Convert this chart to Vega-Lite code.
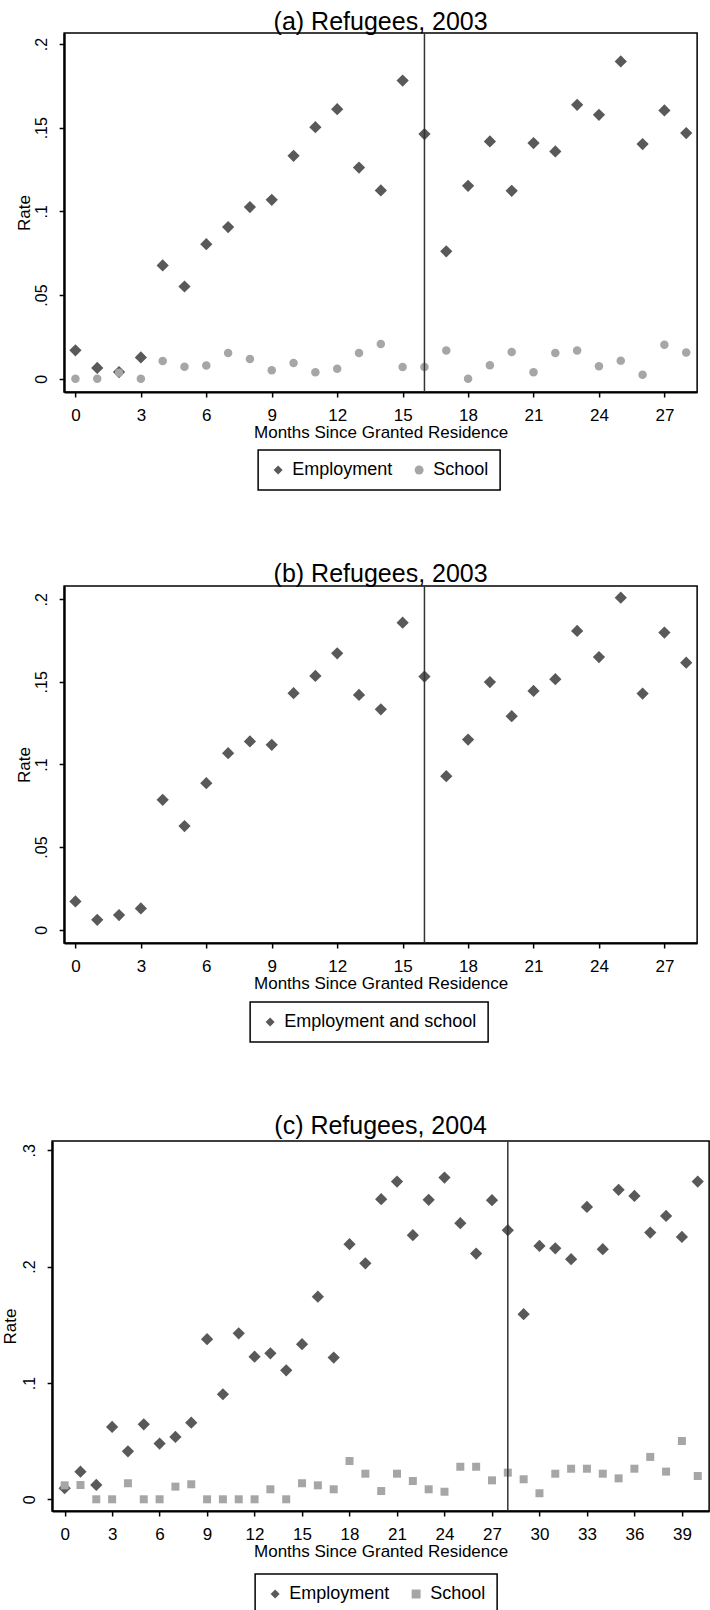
{
  "$schema": "https://vega.github.io/schema/vega-lite/v6.json",
  "padding": {"left": 0, "top": 9, "right": 0, "bottom": 0},
  "center": true,
  "spacing": 69,
  "resolve": {
    "scale": {"color": "independent", "shape": "independent"},
    "legend": {"color": "independent", "shape": "independent"}
  },
  "datasets": {
    "a": [
      {"month": 0, "series": "Employment", "rate": 0.017},
      {"month": 1, "series": "Employment", "rate": 0.0064},
      {"month": 2, "series": "Employment", "rate": 0.004},
      {"month": 3, "series": "Employment", "rate": 0.0127},
      {"month": 4, "series": "Employment", "rate": 0.0677},
      {"month": 5, "series": "Employment", "rate": 0.0551},
      {"month": 6, "series": "Employment", "rate": 0.0804},
      {"month": 7, "series": "Employment", "rate": 0.0906},
      {"month": 8, "series": "Employment", "rate": 0.1026},
      {"month": 9, "series": "Employment", "rate": 0.1069},
      {"month": 10, "series": "Employment", "rate": 0.1332},
      {"month": 11, "series": "Employment", "rate": 0.1503},
      {"month": 12, "series": "Employment", "rate": 0.1611},
      {"month": 13, "series": "Employment", "rate": 0.1262},
      {"month": 14, "series": "Employment", "rate": 0.1125},
      {"month": 15, "series": "Employment", "rate": 0.1782},
      {"month": 16, "series": "Employment", "rate": 0.1462},
      {"month": 17, "series": "Employment", "rate": 0.0761},
      {"month": 18, "series": "Employment", "rate": 0.1153},
      {"month": 19, "series": "Employment", "rate": 0.1418},
      {"month": 20, "series": "Employment", "rate": 0.1123},
      {"month": 21, "series": "Employment", "rate": 0.1408},
      {"month": 22, "series": "Employment", "rate": 0.1358},
      {"month": 23, "series": "Employment", "rate": 0.1637},
      {"month": 24, "series": "Employment", "rate": 0.1577},
      {"month": 25, "series": "Employment", "rate": 0.1896},
      {"month": 26, "series": "Employment", "rate": 0.1402},
      {"month": 27, "series": "Employment", "rate": 0.1603},
      {"month": 28, "series": "Employment", "rate": 0.1468},
      {"month": 0, "series": "School", "rate": 0},
      {"month": 1, "series": "School", "rate": 0},
      {"month": 2, "series": "School", "rate": 0.0035},
      {"month": 3, "series": "School", "rate": 0},
      {"month": 4, "series": "School", "rate": 0.0106},
      {"month": 5, "series": "School", "rate": 0.0072},
      {"month": 6, "series": "School", "rate": 0.0079},
      {"month": 7, "series": "School", "rate": 0.0153},
      {"month": 8, "series": "School", "rate": 0.0118},
      {"month": 9, "series": "School", "rate": 0.005},
      {"month": 10, "series": "School", "rate": 0.0094},
      {"month": 11, "series": "School", "rate": 0.0038},
      {"month": 12, "series": "School", "rate": 0.006},
      {"month": 13, "series": "School", "rate": 0.0153},
      {"month": 14, "series": "School", "rate": 0.0207},
      {"month": 15, "series": "School", "rate": 0.007},
      {"month": 16, "series": "School", "rate": 0.007},
      {"month": 17, "series": "School", "rate": 0.0169},
      {"month": 18, "series": "School", "rate": 0},
      {"month": 19, "series": "School", "rate": 0.008},
      {"month": 20, "series": "School", "rate": 0.016},
      {"month": 21, "series": "School", "rate": 0.0038},
      {"month": 22, "series": "School", "rate": 0.0153},
      {"month": 23, "series": "School", "rate": 0.0169},
      {"month": 24, "series": "School", "rate": 0.0074},
      {"month": 25, "series": "School", "rate": 0.0108},
      {"month": 26, "series": "School", "rate": 0.0023},
      {"month": 27, "series": "School", "rate": 0.0203},
      {"month": 28, "series": "School", "rate": 0.0157}
    ],
    "b": [
      {"month": 0, "series": "Employment and school", "rate": 0.0171},
      {"month": 1, "series": "Employment and school", "rate": 0.006},
      {"month": 2, "series": "Employment and school", "rate": 0.0089},
      {"month": 3, "series": "Employment and school", "rate": 0.0129},
      {"month": 4, "series": "Employment and school", "rate": 0.0786},
      {"month": 5, "series": "Employment and school", "rate": 0.0627},
      {"month": 6, "series": "Employment and school", "rate": 0.0887},
      {"month": 7, "series": "Employment and school", "rate": 0.1068},
      {"month": 8, "series": "Employment and school", "rate": 0.1139},
      {"month": 9, "series": "Employment and school", "rate": 0.1119},
      {"month": 10, "series": "Employment and school", "rate": 0.1431},
      {"month": 11, "series": "Employment and school", "rate": 0.1536},
      {"month": 12, "series": "Employment and school", "rate": 0.1673},
      {"month": 13, "series": "Employment and school", "rate": 0.1421},
      {"month": 14, "series": "Employment and school", "rate": 0.1334},
      {"month": 15, "series": "Employment and school", "rate": 0.1858},
      {"month": 16, "series": "Employment and school", "rate": 0.1532},
      {"month": 17, "series": "Employment and school", "rate": 0.0929},
      {"month": 18, "series": "Employment and school", "rate": 0.1151},
      {"month": 19, "series": "Employment and school", "rate": 0.1499},
      {"month": 20, "series": "Employment and school", "rate": 0.1292},
      {"month": 21, "series": "Employment and school", "rate": 0.1445},
      {"month": 22, "series": "Employment and school", "rate": 0.1516},
      {"month": 23, "series": "Employment and school", "rate": 0.1808},
      {"month": 24, "series": "Employment and school", "rate": 0.165},
      {"month": 25, "series": "Employment and school", "rate": 0.2009},
      {"month": 26, "series": "Employment and school", "rate": 0.1429},
      {"month": 27, "series": "Employment and school", "rate": 0.1798},
      {"month": 28, "series": "Employment and school", "rate": 0.1616}
    ],
    "c": [
      {"month": 0, "series": "Employment", "rate": 0.0095},
      {"month": 1, "series": "Employment", "rate": 0.0237},
      {"month": 2, "series": "Employment", "rate": 0.0123},
      {"month": 3, "series": "Employment", "rate": 0.0622},
      {"month": 4, "series": "Employment", "rate": 0.0412},
      {"month": 5, "series": "Employment", "rate": 0.0645},
      {"month": 6, "series": "Employment", "rate": 0.0479},
      {"month": 7, "series": "Employment", "rate": 0.0536},
      {"month": 8, "series": "Employment", "rate": 0.0659},
      {"month": 9, "series": "Employment", "rate": 0.1376},
      {"month": 10, "series": "Employment", "rate": 0.0903},
      {"month": 11, "series": "Employment", "rate": 0.1427},
      {"month": 12, "series": "Employment", "rate": 0.1226},
      {"month": 13, "series": "Employment", "rate": 0.1255},
      {"month": 14, "series": "Employment", "rate": 0.1109},
      {"month": 15, "series": "Employment", "rate": 0.1333},
      {"month": 16, "series": "Employment", "rate": 0.1742},
      {"month": 17, "series": "Employment", "rate": 0.1218},
      {"month": 18, "series": "Employment", "rate": 0.2193},
      {"month": 19, "series": "Employment", "rate": 0.2029},
      {"month": 20, "series": "Employment", "rate": 0.258},
      {"month": 21, "series": "Employment", "rate": 0.2731},
      {"month": 22, "series": "Employment", "rate": 0.227},
      {"month": 23, "series": "Employment", "rate": 0.2574},
      {"month": 24, "series": "Employment", "rate": 0.2766},
      {"month": 25, "series": "Employment", "rate": 0.2373},
      {"month": 26, "series": "Employment", "rate": 0.2112},
      {"month": 27, "series": "Employment", "rate": 0.2571},
      {"month": 28, "series": "Employment", "rate": 0.2313},
      {"month": 29, "series": "Employment", "rate": 0.1591},
      {"month": 30, "series": "Employment", "rate": 0.2178},
      {"month": 31, "series": "Employment", "rate": 0.2158},
      {"month": 32, "series": "Employment", "rate": 0.2064},
      {"month": 33, "series": "Employment", "rate": 0.2513},
      {"month": 34, "series": "Employment", "rate": 0.215},
      {"month": 35, "series": "Employment", "rate": 0.266},
      {"month": 36, "series": "Employment", "rate": 0.2608},
      {"month": 37, "series": "Employment", "rate": 0.2293},
      {"month": 38, "series": "Employment", "rate": 0.2436},
      {"month": 39, "series": "Employment", "rate": 0.2255},
      {"month": 40, "series": "Employment", "rate": 0.2731},
      {"month": 0, "series": "School", "rate": 0.012},
      {"month": 1, "series": "School", "rate": 0.0123},
      {"month": 2, "series": "School", "rate": 0},
      {"month": 3, "series": "School", "rate": 0},
      {"month": 4, "series": "School", "rate": 0.0138},
      {"month": 5, "series": "School", "rate": 0},
      {"month": 6, "series": "School", "rate": 0},
      {"month": 7, "series": "School", "rate": 0.0109},
      {"month": 8, "series": "School", "rate": 0.0129},
      {"month": 9, "series": "School", "rate": 0},
      {"month": 10, "series": "School", "rate": 0},
      {"month": 11, "series": "School", "rate": 0},
      {"month": 12, "series": "School", "rate": 0},
      {"month": 13, "series": "School", "rate": 0.0086},
      {"month": 14, "series": "School", "rate": 0},
      {"month": 15, "series": "School", "rate": 0.0138},
      {"month": 16, "series": "School", "rate": 0.012},
      {"month": 17, "series": "School", "rate": 0.0086},
      {"month": 18, "series": "School", "rate": 0.0329},
      {"month": 19, "series": "School", "rate": 0.022},
      {"month": 20, "series": "School", "rate": 0.0071},
      {"month": 21, "series": "School", "rate": 0.022},
      {"month": 22, "series": "School", "rate": 0.0157},
      {"month": 23, "series": "School", "rate": 0.0086},
      {"month": 24, "series": "School", "rate": 0.0065},
      {"month": 25, "series": "School", "rate": 0.028},
      {"month": 26, "series": "School", "rate": 0.028},
      {"month": 27, "series": "School", "rate": 0.0163},
      {"month": 28, "series": "School", "rate": 0.0229},
      {"month": 29, "series": "School", "rate": 0.0172},
      {"month": 30, "series": "School", "rate": 0.0052},
      {"month": 31, "series": "School", "rate": 0.022},
      {"month": 32, "series": "School", "rate": 0.0263},
      {"month": 33, "series": "School", "rate": 0.0263},
      {"month": 34, "series": "School", "rate": 0.022},
      {"month": 35, "series": "School", "rate": 0.018},
      {"month": 36, "series": "School", "rate": 0.0263},
      {"month": 37, "series": "School", "rate": 0.0364},
      {"month": 38, "series": "School", "rate": 0.0238},
      {"month": 39, "series": "School", "rate": 0.0501},
      {"month": 40, "series": "School", "rate": 0.02}
    ]
  },
  "vconcat": [
    {
      "title": {"text": "(a) Refugees, 2003", "offset": -3},
      "width": 633,
      "height": 359,
      "layer": [
        {
          "data": {"name": "a"},
          "transform": [{"filter": "datum.series == 'Employment'"}],
          "mark": {"type": "point", "filled": true, "opacity": 1, "size": 150},
          "encoding": {
            "x": {"field": "month", "type": "quantitative",
                  "scale": {"domain": [-0.518, 28.5], "nice": false, "zero": false},
                  "axis": {"values": [0, 3, 6, 9, 12, 15, 18, 21, 24, 27], "title": "Months Since Granted Residence"}},
            "y": {"field": "rate", "type": "quantitative",
                  "scale": {"domain": [-0.00795, 0.2066], "nice": false, "zero": false},
                  "axis": {"values": [0, 0.05, 0.1, 0.15, 0.2], "title": "Rate", "titlePadding": 0,
                           "labelExpr": "datum.value == 0 ? '0' : substring(format(datum.value, '.2~f'), 1)"}},
            "color": {"field": "series", "type": "nominal",
                      "scale": {"domain": ["Employment", "School"], "range": ["#595959", "#a6a6a6"]},
                      "legend": {"title": null, "orient": "none", "legendX": 194, "legendY": 417}},
            "shape": {"field": "series", "type": "nominal",
                      "scale": {"domain": ["Employment", "School"], "range": ["diamond", "circle"]},
                      "legend": {"title": null, "orient": "none", "legendX": 194, "legendY": 417}}
          }
        },
        {
          "data": {"name": "a"},
          "transform": [{"filter": "datum.series == 'School'"}],
          "mark": {"type": "point", "filled": true, "opacity": 1, "size": 72},
          "encoding": {
            "x": {"field": "month", "type": "quantitative"},
            "y": {"field": "rate", "type": "quantitative"},
            "color": {"field": "series", "type": "nominal"},
            "shape": {"field": "series", "type": "nominal"}
          }
        },
        {
          "data": {"values": [{"month": 16}]},
          "mark": {"type": "rule", "color": "#333333", "strokeWidth": 1.5},
          "encoding": {"x": {"field": "month", "type": "quantitative"}}
        }
      ]
    },
    {
      "title": {"text": "(b) Refugees, 2003", "offset": -2},
      "width": 633,
      "height": 357,
      "layer": [
        {
          "data": {"name": "b"},
          "mark": {"type": "point", "filled": true, "opacity": 1, "size": 150},
          "encoding": {
            "x": {"field": "month", "type": "quantitative",
                  "scale": {"domain": [-0.518, 28.5], "nice": false, "zero": false},
                  "axis": {"values": [0, 3, 6, 9, 12, 15, 18, 21, 24, 27], "title": "Months Since Granted Residence"}},
            "y": {"field": "rate", "type": "quantitative",
                  "scale": {"domain": [-0.00804, 0.208], "nice": false, "zero": false},
                  "axis": {"values": [0, 0.05, 0.1, 0.15, 0.2], "title": "Rate", "titlePadding": 0,
                           "labelExpr": "datum.value == 0 ? '0' : substring(format(datum.value, '.2~f'), 1)"}},
            "color": {"field": "series", "type": "nominal",
                      "scale": {"domain": ["Employment and school"], "range": ["#595959"]},
                      "legend": {"title": null, "orient": "none", "legendX": 186, "legendY": 416,
                                 "labelExpr": "datum.label + '           '"}},
            "shape": {"field": "series", "type": "nominal",
                      "scale": {"domain": ["Employment and school"], "range": ["diamond"]},
                      "legend": {"title": null, "orient": "none", "legendX": 186, "legendY": 416,
                                 "labelExpr": "datum.label + '           '"}}
          }
        },
        {
          "data": {"values": [{"month": 16}]},
          "mark": {"type": "rule", "color": "#333333", "strokeWidth": 1.5},
          "encoding": {"x": {"field": "month", "type": "quantitative"}}
        }
      ]
    },
    {
      "title": {"text": "(c) Refugees, 2004", "offset": 1},
      "width": 657,
      "height": 370,
      "layer": [
        {
          "data": {"name": "c"},
          "transform": [{"filter": "datum.series == 'Employment'"}],
          "mark": {"type": "point", "filled": true, "opacity": 1, "size": 150},
          "encoding": {
            "x": {"field": "month", "type": "quantitative",
                  "scale": {"domain": [-0.79, 40.72], "nice": false, "zero": false},
                  "axis": {"values": [0, 3, 6, 9, 12, 15, 18, 21, 24, 27, 30, 33, 36, 39], "title": "Months Since Granted Residence"}},
            "y": {"field": "rate", "type": "quantitative",
                  "scale": {"domain": [-0.01006, 0.308], "nice": false, "zero": false},
                  "axis": {"values": [0, 0.1, 0.2, 0.3], "title": "Rate", "titlePadding": 2,
                           "labelExpr": "datum.value == 0 ? '0' : substring(format(datum.value, '.2~f'), 1)"}},
            "color": {"field": "series", "type": "nominal",
                      "scale": {"domain": ["Employment", "School"], "range": ["#595959", "#a6a6a6"]},
                      "legend": {"title": null, "orient": "none", "legendX": 203, "legendY": 433}},
            "shape": {"field": "series", "type": "nominal",
                      "scale": {"domain": ["Employment", "School"], "range": ["diamond", "square"]},
                      "legend": {"title": null, "orient": "none", "legendX": 203, "legendY": 433}}
          }
        },
        {
          "data": {"name": "c"},
          "transform": [{"filter": "datum.series == 'School'"}],
          "mark": {"type": "point", "filled": true, "opacity": 1, "size": 64},
          "encoding": {
            "x": {"field": "month", "type": "quantitative"},
            "y": {"field": "rate", "type": "quantitative"},
            "color": {"field": "series", "type": "nominal"},
            "shape": {"field": "series", "type": "nominal"}
          }
        },
        {
          "data": {"values": [{"month": 28}]},
          "mark": {"type": "rule", "color": "#333333", "strokeWidth": 1.5},
          "encoding": {"x": {"field": "month", "type": "quantitative"}}
        }
      ]
    }
  ],
  "config": {
    "font": "Liberation Sans",
    "view": {"stroke": "#000000", "strokeWidth": 1.5},
    "axis": {
      "grid": false,
      "domainColor": "#000000",
      "domainWidth": 2.2,
      "tickColor": "#000000",
      "tickWidth": 1.5,
      "tickSize": 5,
      "labelColor": "#000000",
      "titleColor": "#000000",
      "labelFont": "Liberation Sans",
      "titleFont": "Liberation Sans",
      "titleFontWeight": "normal"
    },
    "axisX": {"labelFontSize": 17, "labelPadding": 10, "labelAngle": 0, "titleFontSize": 17, "titlePadding": 1},
    "axisY": {"labelFontSize": 16, "labelAngle": -90, "labelAlign": "center", "labelBaseline": "alphabetic", "labelPadding": 13, "titleFontSize": 17},
    "title": {"fontSize": 25, "fontWeight": "normal", "color": "#000000", "anchor": "middle", "baseline": "bottom", "font": "Liberation Sans"},
    "legend": {
      "strokeColor": "#000000",
      "strokeWidth": 1.5,
      "fillColor": "#ffffff",
      "padding": 11,
      "labelFontSize": 18,
      "labelColor": "#000000",
      "labelFont": "Liberation Sans",
      "labelLimit": 400,
      "direction": "horizontal",
      "columnPadding": 17,
      "labelOffset": 5,
      "symbolSize": 80,
      "symbolStrokeWidth": 0
    }
  }
}
